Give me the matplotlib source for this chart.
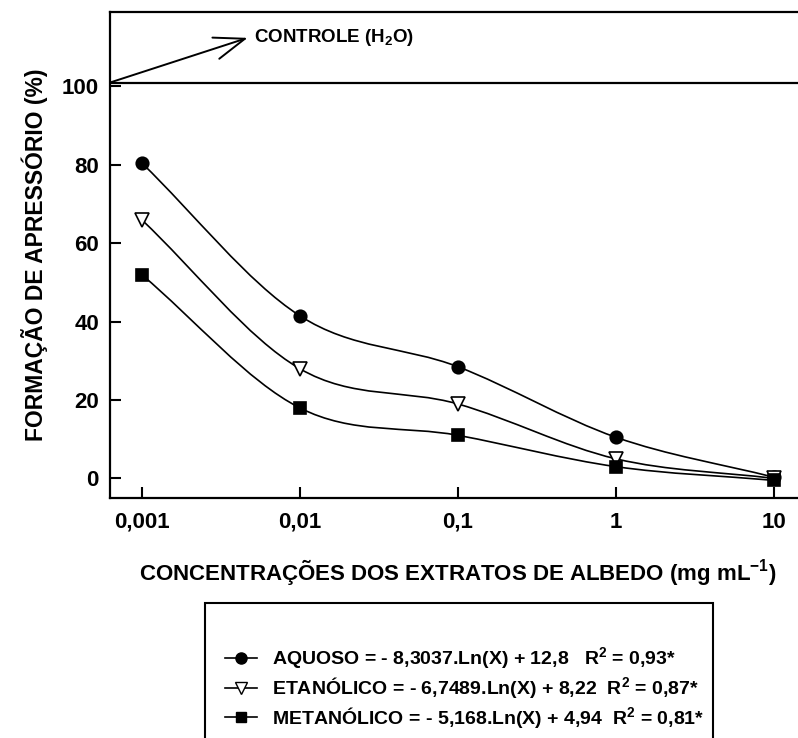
import numpy as np
import matplotlib
matplotlib.use('Agg')
import matplotlib.pyplot as plt
from matplotlib.path import Path
from matplotlib.patches import PathPatch, Rectangle
from matplotlib.lines import Line2D

plt.rcParams['font.family'] = ['Liberation Sans', 'DejaVu Sans']
plt.rcParams['font.weight'] = 'bold'
plt.rcParams['mathtext.fontset'] = 'custom'
plt.rcParams['mathtext.rm'] = 'Liberation Sans:bold'
plt.rcParams['mathtext.it'] = 'Liberation Sans:bold'
plt.rcParams['mathtext.bf'] = 'Liberation Sans:bold'

# dados
concentracoes = [0.001, 0.01, 0.1, 1, 10]
rotulos_x = ['0,001', '0,01', '0,1', '1', '10']
aquoso = [80.5, 41.5, 28.5, 10.5, 0.3]
etanolico = [66.0, 28.0, 19.0, 5.0, 0.0]
metanolico = [52.0, 18.0, 11.0, 3.0, -0.5]
controle = 101

series = [
    (aquoso, 'o', 'black', 9, 'AQUOSO = - 8,3037.Ln(X) + 12,8   R$^{2}$ = 0,93*'),
    (etanolico, 'v', 'white', 10, 'ETANÓLICO = - 6,7489.Ln(X) + 8,22  R$^{2}$ = 0,87*'),
    (metanolico, 's', 'black', 8.5, 'METANÓLICO = - 5,168.Ln(X) + 4,94  R$^{2}$ = 0,81*'),
]


def curva_suave(xs, ys):
    # curva tipo Catmull-Rom em escala log (só para desenhar a linha)
    lx = np.log10(xs)
    p = np.column_stack([lx, ys])
    n = len(p)
    tang = []
    for i in range(n):
        if i == 0:
            tang.append(p[1] - p[0])
        elif i == n - 1:
            tang.append(p[-1] - p[-2])
        else:
            tang.append((p[i + 1] - p[i - 1]) / 2)
    verts = [p[0]]
    codes = [Path.MOVETO]
    for i in range(n - 1):
        verts += [p[i] + tang[i] / 3, p[i + 1] - tang[i + 1] / 3, p[i + 1]]
        codes += [Path.CURVE4] * 3
    verts = np.array(verts)
    verts[:, 0] = 10 ** verts[:, 0]
    return Path(verts, codes)


fig = plt.figure(figsize=(7.98, 7.38), dpi=100)
ax = fig.add_axes([110 / 798, 240 / 738, 688 / 798, 486 / 738])
ax.set_xscale('log')
ax.set_xlim(10 ** -3.2006, 10 ** 1.152)
ax.set_ylim(-5, 119)

for ys, mk, fc, ms, lab in series:
    patch = PathPatch(curva_suave(concentracoes, ys), facecolor='none',
                      edgecolor='black', lw=1.2, transform=ax.transData, zorder=2)
    ax.add_patch(patch)
    ax.plot(concentracoes, ys, linestyle='none', marker=mk, markersize=ms,
            markerfacecolor=fc, markeredgecolor='black', markeredgewidth=1.2, zorder=3)

ax.axhline(controle, color='black', lw=1.6)
ax.annotate('', xy=(10 ** -2.33, 112.4), xytext=(10 ** -3.2006, controle),
            arrowprops=dict(arrowstyle='->,head_length=1.1,head_width=0.4',
                            mutation_scale=20, color='black', lw=1.4,
                            shrinkA=0, shrinkB=0))
ax.text(10 ** -2.29, 112.4, 'CONTROLE (H$_{2}$O)', fontsize=13.5, fontweight='bold',
        va='center', ha='left')

ax.set_xticks(concentracoes)
ax.set_xticklabels(rotulos_x)
ax.xaxis.set_minor_locator(plt.NullLocator())
ax.set_yticks([0, 20, 40, 60, 80, 100])
ax.tick_params(direction='in', length=8, width=1.5, labelsize=16)
ax.tick_params(axis='x', pad=10)
ax.tick_params(axis='y', pad=8)
for s in ['left', 'bottom', 'top']:
    ax.spines[s].set_linewidth(1.6)
ax.spines['right'].set_visible(False)

ax.set_ylabel('FORMAÇÃO DE APRESSÓRIO (%)', fontsize=16.5, fontweight='bold', labelpad=10)
fig.text(458 / 798, 1 - 572 / 738, 'CONCENTRAÇÕES DOS EXTRATOS DE ALBEDO (mg mL$^{-1}$)',
         fontsize=16, fontweight='bold', ha='center', va='center')

# legenda desenhada à mão
fig.patches.append(Rectangle((205 / 798, -0.05), 508 / 798, 0.05 + (738 - 603) / 738,
                             transform=fig.transFigure, fill=False, edgecolor='black',
                             lw=1.5, figure=fig))
linhas_y = [658, 688, 717]
for (ys, mk, fc, ms, lab), yl in zip(series, linhas_y):
    yf = 1 - yl / 738
    fig.add_artist(Line2D([225 / 798, 257 / 798], [yf, yf], color='black', lw=1.2,
                          transform=fig.transFigure))
    fig.add_artist(Line2D([241 / 798], [yf], marker=mk, markersize=ms - 1,
                          markerfacecolor=fc, markeredgecolor='black',
                          transform=fig.transFigure))
    fig.text(272 / 798, yf, lab, fontsize=14, fontweight='bold', va='center', ha='left')

fig.savefig('out.png', dpi=100)
